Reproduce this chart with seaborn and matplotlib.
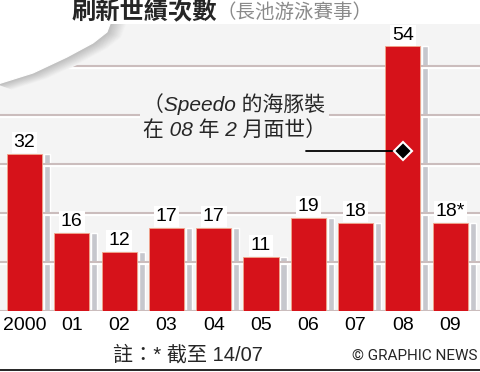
import numpy as np
import pandas as pd
import matplotlib
matplotlib.use('Agg')
import matplotlib.pyplot as plt
import seaborn as sns
from matplotlib.patches import Polygon
from matplotlib.lines import Line2D

# chart data
years = ['2000', '01', '02', '03', '04', '05', '06', '07', '08', '09']
records = [32, 16, 12, 17, 17, 11, 19, 18, 54, 18]
value_labels = ['32', '16', '12', '17', '17', '11', '19', '18', '54', '18*']
grid_levels = [10, 20, 30, 40, 50]

title = '刷新世績次數'
subtitle = '（長池游泳賽事）'
note_text = '（Speedo 的海豚裝\n在 08 年 2 月面世）'
footnote = '註：* 截至 14/07'
credit = '© GRAPHIC NEWS'

sns.set_theme(style='white')
plt.rcParams['font.family'] = ['Liberation Sans', 'Noto Sans CJK TC', 'DejaVu Sans']

W, H = 481, 372
fig = plt.figure(figsize=(W / 100, H / 100), dpi=100)
ax = fig.add_axes([0, (H - 311) / H, 1, (311 - 24) / H])
ax.set_facecolor('#f4f4f4')

df = pd.DataFrame({'year': years, 'records': records})

# grey drop-shadow bars
x = np.arange(len(years))
ax.bar(x + 0.476, df['records'], width=0.13, color='#c6c7cd', zorder=1)

# gridlines with white underline
for g in grid_levels:
    ax.axhline(g - 0.32, color='white', lw=1.6, zorder=1.5)
    ax.axhline(g, color='#cbbdbd', lw=1.5, zorder=1.6)
ax.axhline(0, color='#cbbdbd', lw=1.5, zorder=1.6)

# main red bars
sns.barplot(data=df, x='year', y='records', color='#d6121a', saturation=1,
            width=0.74, edgecolor='#f2a58a', linewidth=0.6, ax=ax, zorder=3)

ax.bar_label(ax.containers[-1], labels=value_labels, padding=2, fontsize=14,
             color='black', zorder=4,
             bbox=dict(boxstyle='square,pad=0.1', fc='white', ec='none'))

ax.set_xlim(-24.5 / 47.3, (W - 24.5) / 47.3)
ax.set_ylim(0, (311 - 24) / 4.9)
ax.set_yticks([])
ax.set_xlabel('')
ax.set_ylabel('')
ax.tick_params(axis='x', length=0, pad=4, labelsize=14, labelcolor='black')
for s in ax.spines.values():
    s.set_visible(False)

# white swoosh in the top-left corner with soft shadow (pixel coords)
edge_x = np.array([-2, 33, 67, 93, 107, 113])
edge_y = np.array([84, 73, 57, 43, 32, 16])
s = np.linspace(0, len(edge_x) - 1, 120)
cx = np.interp(s, np.arange(len(edge_x)), edge_x)
cy = np.interp(s, np.arange(len(edge_y)), edge_y)
n_steps = 14
for k in range(n_steps, 0, -1):
    shade = min(0.74 + (0.957 - 0.74) * k / n_steps, 1.0)
    ax.plot((cx + k * 1.0) / W, 1 - (cy + k * 0.35) / H, color=(shade, shade, shade),
            lw=1.6, transform=fig.transFigure, zorder=1.9, solid_capstyle='butt')
poly_x = np.concatenate([[-2], cx, [113]])
poly_y = np.concatenate([[0], cy, [0]])
poly = Polygon(np.column_stack([poly_x / W, 1 - poly_y / H]),
               closed=True, fc='white', ec='white', lw=0.8,
               transform=fig.transFigure, zorder=2)
ax.add_patch(poly)

# annotation for bar 2008
y_note = (311 - 151) / 4.9
ax.plot([(306 - 24.5) / 47.3, 8], [y_note, y_note], color='black', lw=1.3, zorder=5)
ax.plot([8], [y_note], marker='D', markersize=9, color='black',
        markeredgecolor='white', markeredgewidth=1.5, zorder=6)
fig.text(143 / W, 1 - 116.5 / H, note_text, fontsize=15, style='italic',
         ha='left', va='center', linespacing=1.3, zorder=5,
         bbox=dict(boxstyle='square,pad=0.15', fc='#f4f4f4', ec='none'))

# titles
fig.text(217 / W, 1 - 13 / H, title, fontsize=17.5, fontweight='black',
         ha='right', va='center')
fig.text(217 / W, 1 - 13 / H, subtitle, fontsize=14, style='italic',
         color='#8a8a8a', ha='left', va='center')

# footer
fig.text(113 / W, 1 - 355 / H, footnote, fontsize=14.5, ha='left', va='center')
fig.text(478 / W, 1 - 356 / H, credit, fontsize=11, family=['Roboto', 'Liberation Sans'],
         ha='right', va='center')
fig.add_artist(Line2D([0, 1], [1 - 369.5 / H, 1 - 369.5 / H], color='black', lw=1.2))

fig.savefig('out.png', dpi=100)
